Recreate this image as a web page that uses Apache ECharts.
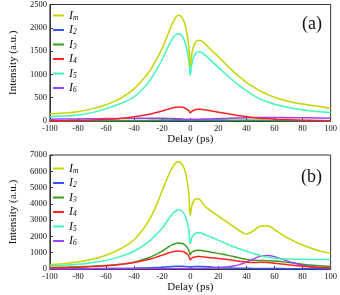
<!DOCTYPE html>
<html>
<head>
<meta charset="utf-8">
<script src="https://cdn.jsdelivr.net/npm/echarts@6/dist/echarts.min.js"></script>
<style>html,body{margin:0;padding:0;background:#fff}#c{width:340px;height:295px}</style>
</head>
<body>
<div id="c"></div>
<script>
const DELAY = [-100,-90,-80,-70,-60,-50,-40,-30,-25,-20,-16,-13,-10,-8,-6,-4,-2,-1,0,1,2,3,5,7,10,15,20,25,30,35,40,45,50,55,60,70,80,90,100];
const X_TICKS = [-100,-80,-60,-40,-20,0,20,40,60,80,100];
const SERIES_NAMES = ['Im','I2','I3','I4','I5','I6'];
const SUBS = ['m','2','3','4','5','6'];
const COLORS = ['#c4d400','#3355ff','#3a9c1e','#ff2222','#44f5b8','#a040ff'];

// panel (a)
const A_Im = [150,170,200,260,350,480,690,1030,1270,1560,1850,2070,2240,2270,2230,2100,1820,1580,1180,1420,1560,1650,1730,1730,1670,1520,1380,1230,1080,950,830,730,640,570,510,420,365,320,270];
const A_I2 = [1,1,2,2,3,3,4,5,6,7,8,8,9,9,9,9,8,8,7,8,8,8,9,9,9,8,7,7,6,5,5,4,4,4,3,3,2,2,2];
const A_I3 = [2,2,3,4,5,7,10,14,17,20,22,24,25,25,25,24,22,20,18,19,20,21,22,22,22,21,20,19,18,17,16,15,14,13,12,10,8,7,6];
const A_I4 = [5,8,12,20,35,55,90,140,175,215,250,275,295,300,295,280,245,220,175,205,225,238,250,250,240,215,190,165,140,115,95,75,60,50,40,28,18,12,8];
const A_I5 = [90,105,130,180,265,370,520,820,1050,1320,1580,1750,1860,1870,1830,1710,1480,1290,980,1200,1330,1410,1480,1480,1430,1290,1150,1010,880,760,650,550,470,410,360,290,240,205,185];
const A_I6 = [40,42,45,48,52,55,58,60,60,58,56,53,50,47,44,40,37,35,33,35,36,37,39,40,42,45,50,55,60,65,70,72,74,75,75,72,70,65,60];

// panel (b)
const B_Im = [270,330,430,600,840,1230,1800,2900,3750,4800,5650,6200,6530,6580,6450,6100,5300,4600,3300,3850,4100,4250,4320,4250,3900,3550,3250,2950,2650,2350,2150,2350,2620,2650,2420,1880,1470,1170,960];
const B_I2 = [5,7,10,15,20,30,45,70,90,110,135,155,165,170,168,160,145,135,120,130,140,148,158,160,150,120,90,70,55,45,40,38,38,35,30,22,15,10,6];
const B_I3 = [85,110,140,170,210,290,420,680,870,1100,1330,1480,1580,1600,1570,1490,1300,1140,880,1020,1080,1120,1150,1150,1100,1030,960,870,780,680,580,530,520,510,490,400,290,210,150];
const B_I4 = [60,80,110,150,200,280,400,580,700,850,970,1050,1090,1100,1080,1030,900,800,560,660,710,740,760,760,730,690,650,600,540,480,420,400,410,400,360,260,170,100,60];
const B_I5 = [185,230,290,390,530,760,1090,1650,2050,2500,3000,3350,3580,3620,3560,3330,2800,2350,1550,1900,2050,2150,2230,2220,2120,1950,1760,1580,1400,1240,1090,950,830,730,660,610,595,590,590];
const B_I6 = [15,18,20,22,25,28,30,33,34,35,35,35,35,35,34,33,32,31,30,31,32,33,36,38,45,60,85,120,170,270,420,610,790,830,760,470,230,110,60];

const Y_A = {min:0, max:2500, interval:500};
const Y_B = {min:0, max:7000, interval:1000};

const FONT = 'Liberation Serif';
const AXC = '#333';

function pair(vals){ return DELAY.map((d,i)=>[d, vals[i]]); }

function mkX(gi){
  return {gridIndex:gi, type:'value', min:-100, max:100, interval:20,
    name:'Delay (ps)', nameLocation:'middle', nameGap:13,
    nameTextStyle:{fontFamily:FONT, fontSize:11, color:'#111'},
    axisLine:{onZero:false, lineStyle:{color:AXC, width:1}},
    axisTick:{inside:true, length:3, lineStyle:{color:AXC}},
    axisLabel:{fontFamily:FONT, fontSize:8.5, color:'#111', margin:3, formatter:v=>String(v)},
    splitLine:{show:false}};
}
function mkY(gi, cfg){
  return {gridIndex:gi, type:'value', min:cfg.min, max:cfg.max, interval:cfg.interval,
    name:'Intensity (a.u.)', nameLocation:'middle', nameGap:23,
    nameTextStyle:{fontFamily:FONT, fontSize:11, color:'#111'},
    axisLine:{show:true, onZero:false, lineStyle:{color:AXC, width:1}},
    axisTick:{show:true, inside:true, length:3, lineStyle:{color:AXC}},
    axisLabel:{fontFamily:FONT, fontSize:8.5, color:'#111', margin:3, formatter:v=>String(v)},
    splitLine:{show:false}};
}

const seriesA = [A_Im,A_I2,A_I3,A_I4,A_I5,A_I6];
const seriesB = [B_Im,B_I2,B_I3,B_I4,B_I5,B_I6];
const series = [];
[1,2,5,3,4,0].forEach(k=>{
  series.push({name:'a_'+SERIES_NAMES[k], type:'line', xAxisIndex:0, yAxisIndex:0,
    data:pair(seriesA[k]), showSymbol:false, smooth:0.4,
    lineStyle:{width:1.5, color:COLORS[k]}, itemStyle:{color:COLORS[k]}});
});
[1,2,5,3,4,0].forEach(k=>{
  series.push({name:'b_'+SERIES_NAMES[k], type:'line', xAxisIndex:1, yAxisIndex:1,
    data:pair(seriesB[k]), showSymbol:false, smooth:0.4,
    lineStyle:{width:1.5, color:COLORS[k]}, itemStyle:{color:COLORS[k]}});
});

function mkLegend(prefix, top){
  return {orient:'vertical', left:48, top:top, itemWidth:11, itemHeight:2, itemGap:1.5,
    icon:'rect', data:SERIES_NAMES.map(n=>prefix+n),
    formatter:function(n){ const k = SERIES_NAMES.indexOf(n.slice(2)); return '{i|I}{s|'+SUBS[k]+'}'; },
    textStyle:{fontFamily:FONT, color:'#111', rich:{
      i:{fontFamily:FONT, fontStyle:'italic', fontSize:12, lineHeight:12},
      s:{fontFamily:FONT, fontStyle:'italic', fontSize:7.5, lineHeight:12, padding:[5,0,0,0]}
    }}};
}

const chart = echarts.init(document.getElementById('c'), null, {renderer:'canvas'});
chart.setOption({
  animation:false,
  backgroundColor:'#fff',
  title:[
    {text:'(a)', right:13, top:10, textStyle:{fontFamily:FONT, fontSize:18, fontWeight:'normal', color:'#111'}},
    {text:'(b)', right:13, top:163, textStyle:{fontFamily:FONT, fontSize:18, fontWeight:'normal', color:'#111'}}
  ],
  legend:[mkLegend('a_', 4), mkLegend('b_', 157)],
  grid:[
    {left:36, top:3, width:297, height:118, show:true, borderColor:AXC, borderWidth:1, backgroundColor:'transparent'},
    {left:36, top:155, width:297, height:114, show:true, borderColor:AXC, borderWidth:1, backgroundColor:'transparent'}
  ],
  xAxis:[mkX(0), mkX(1)],
  yAxis:[mkY(0, Y_A), mkY(1, Y_B)],
  series:series
});
</script>
</body>
</html>
